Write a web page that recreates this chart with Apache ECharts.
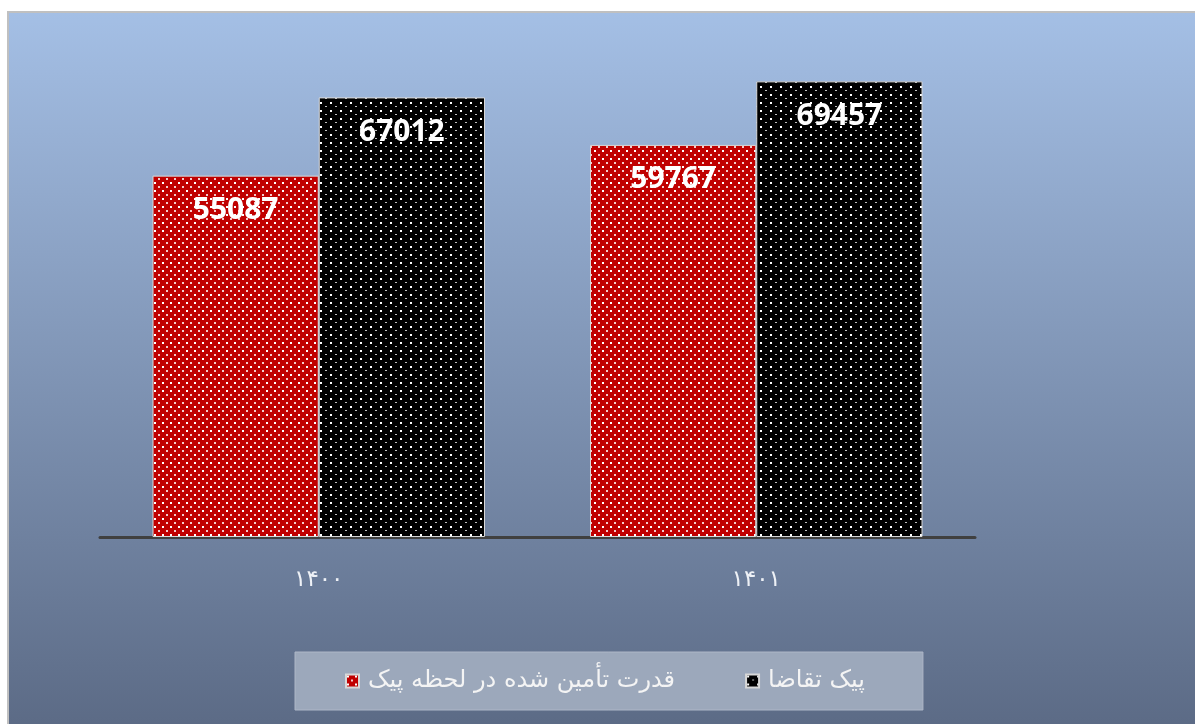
<!DOCTYPE html>
<html>
<head>
<meta charset="utf-8">
<script src="https://cdn.jsdelivr.net/npm/echarts@6/dist/echarts.min.js"></script>
<style>
  html, body { margin: 0; padding: 0; background: #ffffff; }
  .frame {
    position: absolute; left: 7px; top: 11px;
    width: 1188px; height: 713px;
    border-left: 2px solid #c0c0c0; border-top: 2px solid #c0c0c0;
  }
  #chart { width: 1186px; height: 711px; }
</style>
</head>
<body>
<div class="frame"><div id="chart"></div></div>
<script>
const categories = ['۱۴۰۰', '۱۴۰۱']
const seriesNames = ['قدرت تأمین شده در لحظه پیک', 'پیک تقاضا']
const suppliedValues = [55087, 59767]
const demandValues = [67012, 69457]

// dotted fill like the excel pattern
const makePattern = (bg, w, h, dots) => {
  const c = document.createElement('canvas')
  c.width = w
  c.height = h
  const ctx = c.getContext('2d')
  ctx.fillStyle = bg
  ctx.fillRect(0, 0, w, h)
  dots.forEach(d => {
    ctx.fillStyle = d[4]
    ctx.fillRect(d[0], d[1], d[2], d[3])
  })
  return { image: c, repeat: 'repeat' }
}

const redFill = makePattern('#c00000', 8, 8, [
  [1, 1, 2, 2, '#ffffff'],
  [5, 5, 2, 2, 'rgba(255,255,255,0.8)']
])
const blackFill = makePattern('#000000', 10, 8, [
  [1, 1, 2, 2, '#ffffff'],
  [6, 5, 2, 1, 'rgba(255,255,255,0.75)']
])

const myEChart = echarts.init(document.getElementById('chart'))

const labelStyle = {
  show: true,
  position: 'insideTop',
  distance: 20,
  formatter: '{c}',
  color: '#ffffff',
  fontFamily: 'Open Sans',
  fontWeight: 'bold',
  fontSize: 30
}

const option = {
  animation: false,
  backgroundColor: {
    type: 'linear', x: 0, y: 0, x2: 0, y2: 1,
    colorStops: [
      { offset: 0, color: '#a4bfe5' },
      { offset: 1, color: '#5c6b86' }
    ]
  },
  legend: {
    left: 286,
    top: 639,
    data: [seriesNames[0], seriesNames[1]],
    icon: 'rect',
    itemWidth: 13,
    itemHeight: 13,
    itemGap: 70,
    padding: [17, 58, 17, 50],
    backgroundColor: '#9ca8bb',
    borderColor: '#aeb7c7',
    borderWidth: 1,
    textStyle: {
      color: '#f4f4f4',
      fontFamily: 'DejaVu Sans',
      fontSize: 24,
      padding: [0, 0, 0, 4]
    }
  },
  grid: {
    left: 91,
    right: 220,
    top: 32,
    bottom: 187
  },
  xAxis: {
    type: 'category',
    data: categories,
    axisTick: { show: false },
    axisLine: { lineStyle: { color: '#404040', width: 3 } },
    axisLabel: {
      margin: 32,
      color: '#eef1f6',
      fontFamily: 'DejaVu Sans',
      fontSize: 23
    }
  },
  yAxis: {
    type: 'value',
    min: 0,
    max: 75000,
    show: false,
    splitLine: { show: false }
  },
  series: [
    {
      name: seriesNames[0],
      type: 'bar',
      data: suppliedValues,
      barWidth: '38%',
      barGap: '0%',
      itemStyle: { color: redFill, borderColor: '#d8d8d8', borderWidth: 1 },
      label: labelStyle
    },
    {
      name: seriesNames[1],
      type: 'bar',
      data: demandValues,
      barWidth: '38%',
      barGap: '0%',
      itemStyle: { color: blackFill, borderColor: '#d8d8d8', borderWidth: 1 },
      label: labelStyle
    }
  ]
}
myEChart.setOption(option)
window.addEventListener('resize', () => {
  myEChart?.resize()
})
</script>
</body>
</html>
